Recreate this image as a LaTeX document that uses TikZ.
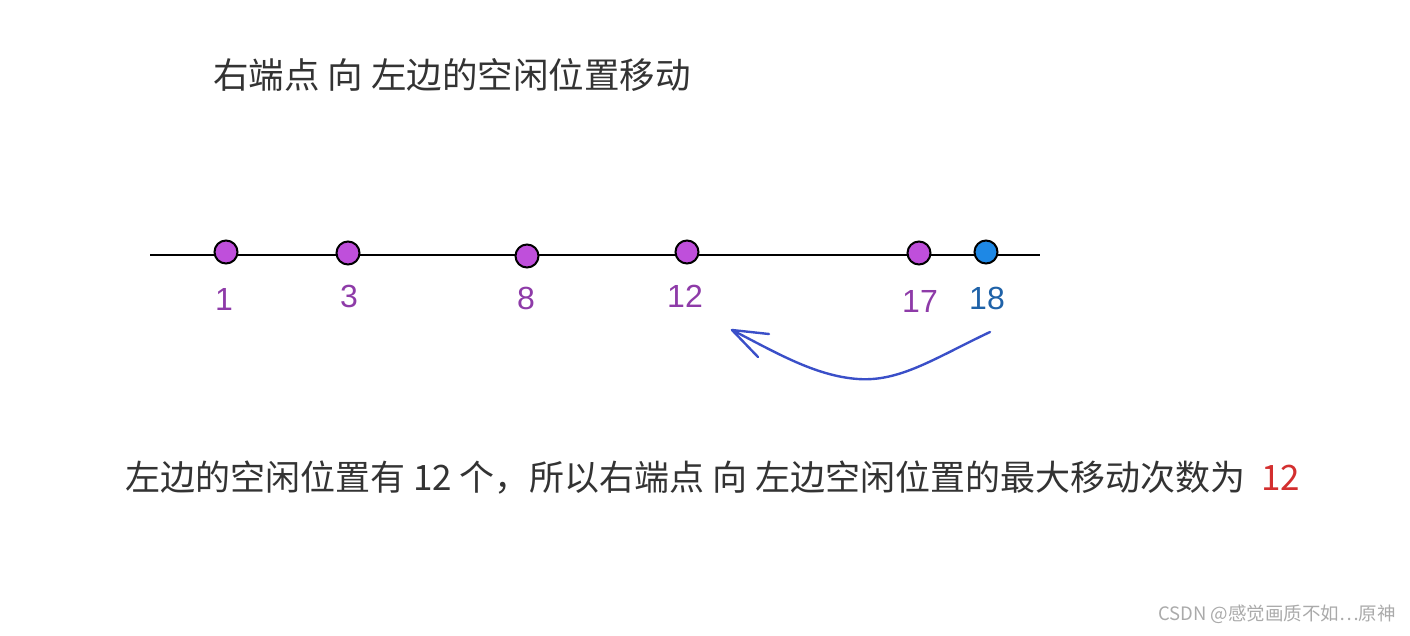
\documentclass[tikz,border=0pt]{standalone}
\usepackage{fontspec}
\setmainfont{Liberation Sans}
\newfontfamily\cjk{Noto Sans CJK SC}
\definecolor{dotpurple}{HTML}{BF4FDB}
\definecolor{dotblue}{HTML}{1E88E5}
\definecolor{labpurple}{HTML}{8E3BA8}
\definecolor{labblue}{HTML}{1F62A8}
\definecolor{arrowblue}{HTML}{3A4FC8}
\definecolor{txtgray}{HTML}{333333}
\definecolor{numred}{HTML}{D32F2F}
\definecolor{wmgray}{HTML}{AAAAAA}
\begin{document}
\begin{tikzpicture}[x=1pt,y=-1pt,
  dot/.style={circle,draw=black,line width=2pt,minimum size=23pt,inner sep=0pt},
  pdot/.style={dot,fill=dotpurple},
  bdot/.style={dot,fill=dotblue},
  lab/.style={inner sep=0pt,font=\fontsize{32}{36}\selectfont},
  cn/.style={inner sep=0pt,anchor=west,text=txtgray,font=\cjk\fontsize{35.5}{40}\selectfont},
  mv/.style={draw=arrowblue,line width=2.4pt,line cap=round,line join=round}]
\useasboundingbox (0,0) rectangle (1410,635);
% title
\node[cn] (title) at (213,75) {右端点 向 左边的空闲位置移动};
% number line
\coordinate (L) at (150,255);
\coordinate (R) at (1040,255);
\draw[line width=2pt] (L) -- (R);
\node[pdot] (d1) at (226,252) {};
\node[pdot] (d3) at (348,253) {};
\node[pdot] (d8) at (527,256) {};
\node[pdot] (d12) at (687,252) {};
\node[pdot] (d17) at (919,253) {};
\node[bdot] (d18) at (986,252) {};
\node[lab,text=labpurple] (l1) at (224,299) {1};
\node[lab,text=labpurple] (l3) at (349,296) {3};
\node[lab,text=labpurple] (l8) at (526,298) {8};
\node[lab,text=labpurple] (l12) at (685,296) {12};
\node[lab,text=labpurple] (l17) at (920,301) {17};
\node[lab,text=labblue] (l18) at (987,298) {18};
% arrow
\coordinate (As) at (990,332);
\coordinate (Am) at (858,379);
\coordinate (At) at (732,330);
\coordinate (H1) at (769,334);
\coordinate (H2) at (758,357);
\draw[mv] (As) .. controls (935,358) and (900,382) .. (Am) .. controls (815,376) and (775,352) .. (At);
\draw[mv] (H1) -- (At) -- (H2);
% bottom text
\node[cn,font=\cjk\fontsize{35}{40}\selectfont] (bottom) at (125,478) {左边的空闲位置有 12 个，所以右端点 向 左边空闲位置的最大移动次数为\hspace{0.45em}\textcolor{numred}{12}};
% watermark
\node[inner sep=0pt,anchor=east,text=wmgray,font=\cjk\fontsize{18.5}{20}\selectfont] (wm) at (1396,614) {CSDN @感觉画质不如…原神};
\end{tikzpicture}
\end{document}
